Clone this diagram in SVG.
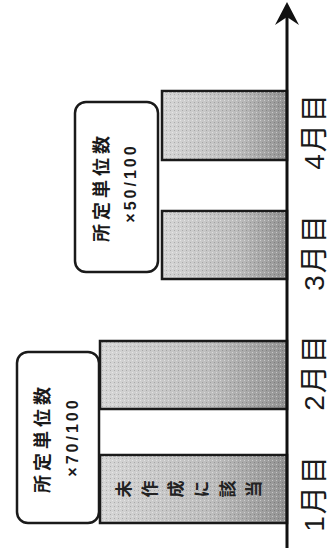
<svg xmlns="http://www.w3.org/2000/svg" width="329" height="554" viewBox="0 0 329 554">
<style>
.bar{stroke:#1a1a1a;stroke-width:2.5;fill:url(#g)}
.dots{fill:url(#p);stroke:none}
.box{fill:#fff;stroke:#1a1a1a;stroke-width:2.5}
.t{font-family:"Liberation Sans","Noto Sans CJK JP",sans-serif;fill:#1a1a1a;text-anchor:middle;dominant-baseline:central}
.lab{font-size:28px;letter-spacing:2px}
.bx1{font-size:18px;letter-spacing:4px;font-weight:700}
.bx2{font-size:16px;letter-spacing:3px;font-weight:700}
.vt{font-family:"Noto Sans CJK JP",sans-serif;font-size:17px;letter-spacing:9px;font-weight:700;fill:#222;text-anchor:middle;writing-mode:vertical-rl}
</style>
<defs>
<linearGradient id="g" x1="0" y1="0" x2="1" y2="0">
<stop offset="0" stop-color="#d6d6d6"/>
<stop offset="0.6" stop-color="#bdbdbd"/>
<stop offset="1" stop-color="#929292"/>
</linearGradient>
<pattern id="p" width="4" height="4" patternUnits="userSpaceOnUse">
<rect x="0" y="0" width="1" height="1" fill="#fff" fill-opacity="0.45"/>
<rect x="2" y="2" width="1" height="1" fill="#000" fill-opacity="0.18"/>
</pattern>
</defs>
<rect width="329" height="554" fill="#fff"/>
<g id="bar1"><rect class="bar" x="100" y="455" width="187" height="68"/><rect class="dots" x="101" y="456" width="185" height="66"/>
<g transform="translate(193,489) rotate(-90)"><text class="vt" x="0" y="0">未作成に該当</text></g></g>
<g id="bar2"><rect class="bar" x="100" y="341" width="187" height="68"/><rect class="dots" x="101" y="342" width="185" height="66"/></g>
<g id="bar3"><rect class="bar" x="162" y="211" width="125" height="68"/><rect class="dots" x="163" y="212" width="123" height="66"/></g>
<g id="bar4"><rect class="bar" x="162" y="91" width="125" height="69"/><rect class="dots" x="163" y="92" width="123" height="67"/></g>
<g id="box1"><rect class="box" x="17" y="352" width="82" height="171" rx="11"/>
<text class="t bx1" transform="translate(43,438) rotate(-90)">所定単位数</text>
<text class="t bx2" transform="translate(72,437) rotate(-90)">×70/100</text></g>
<g id="box2"><rect class="box" x="75" y="102" width="83" height="170" rx="11"/>
<text class="t bx1" transform="translate(102,187) rotate(-90)">所定単位数</text>
<text class="t bx2" transform="translate(130,183) rotate(-90)">×50/100</text></g>
<g id="connectors">
<line x1="287" y1="548" x2="287" y2="14" stroke="#111" stroke-width="3"/>
<path d="M287,2 L299,25 L287,17 L275,25 Z" fill="#111"/>
</g>
<g id="labels">
<text class="t lab" transform="translate(314,493) rotate(-90)">1月目</text>
<text class="t lab" transform="translate(314,372) rotate(-90)">2月目</text>
<text class="t lab" transform="translate(314,252) rotate(-90)">3月目</text>
<text class="t lab" transform="translate(314,131) rotate(-90)">4月目</text>
</g>
</svg>
